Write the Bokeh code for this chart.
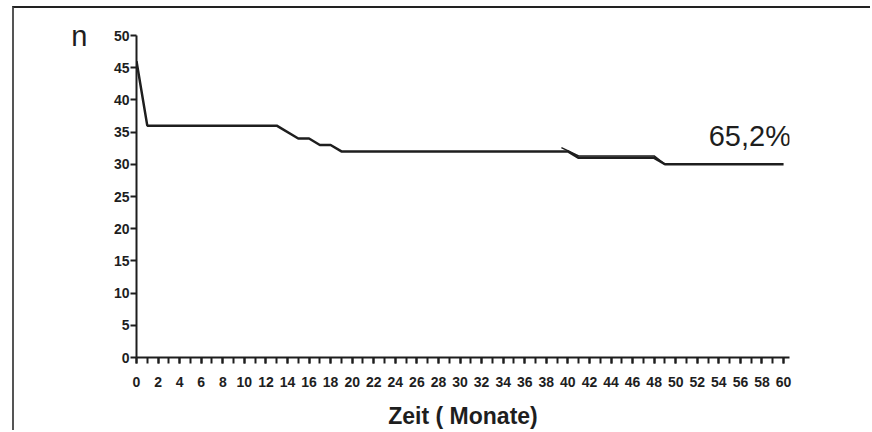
from bokeh.plotting import figure
from bokeh.models import Range1d, SingleIntervalTicker, FixedTicker, Label, LinearAxis
from bokeh.embed import file_html
from bokeh.resources import INLINE

# Data
months = [0, 1, 13, 15, 16, 17, 18, 19, 40, 41, 48, 49, 60]
n_patients = [46, 36, 36, 34, 34, 33, 33, 32, 32, 31, 31, 30, 30]
months_b = [39.4, 41, 48, 49]
n_patients_b = [32.6, 31.3, 31.3, 30]
y_ticks = [0, 5, 10, 15, 20, 25, 30, 35, 40, 45, 50]
final_label = "65,2%"
y_title = "n"
x_title = "Zeit ( Monate)"

FONT = "Liberation Sans"
INK = "#1e1e1e"

p = figure(width=858, height=424, output_backend="svg", toolbar_location=None,
           x_range=Range1d(0, 60.55), y_range=Range1d(0, 50),
           min_border_left=122, min_border_right=83, min_border_top=27, min_border_bottom=75)
p.styles = {"margin-left": "12px", "margin-top": "6px",
            "border-left": "2px solid #555555", "border-top": "2px solid #222222"}
p.xgrid.visible = False
p.ygrid.visible = False
p.outline_line_color = None
p.background_fill_color = "white"
p.border_fill_color = "white"

p.line(months, n_patients, line_color=INK, line_width=2.5)
p.line(months_b, n_patients_b, line_color=INK, line_width=1.5)

for ax in (p.xaxis[0], p.yaxis[0]):
    ax.axis_line_color = INK
    ax.axis_line_width = 2
    ax.major_tick_line_color = INK
    ax.major_tick_line_width = 2
    ax.major_tick_in = 0
    ax.major_tick_out = 6
    ax.major_label_text_font = FONT
    ax.major_label_text_font_style = "bold"
    ax.major_label_text_font_size = "14px"
    ax.major_label_text_color = INK

p.xaxis.ticker = SingleIntervalTicker(interval=2, num_minor_ticks=2)
p.xaxis.minor_tick_line_color = INK
p.xaxis.minor_tick_line_width = 2
p.xaxis.minor_tick_in = 0
p.xaxis.minor_tick_out = 6
p.xaxis.major_label_standoff = 13
p.xaxis.axis_label = x_title
p.xaxis.axis_label_text_font = FONT
p.xaxis.axis_label_text_font_style = "bold"
p.xaxis.axis_label_text_font_size = "23px"
p.xaxis.axis_label_text_color = INK
p.xaxis.axis_label_standoff = 13

p.yaxis.ticker = FixedTicker(ticks=y_ticks)
p.yaxis.minor_tick_line_color = None
p.yaxis.major_label_standoff = 1

# "n" as an outer left axis with a single labelled tick at the top
n_axis = LinearAxis(ticker=FixedTicker(ticks=[y_ticks[-1]]),
                    major_label_overrides={y_ticks[-1]: y_title},
                    axis_line_color=None, major_tick_line_color=None,
                    minor_tick_line_color=None,
                    major_label_text_font=FONT, major_label_text_font_size="29px",
                    major_label_text_color=INK, major_label_standoff=17)
p.add_layout(n_axis, "left")

p.add_layout(Label(x=53.06, y=34.4, text=final_label, text_font=FONT, text_font_size="29px",
                   text_color=INK, text_baseline="alphabetic"))

open("out.html", "w").write(file_html(p, INLINE))
